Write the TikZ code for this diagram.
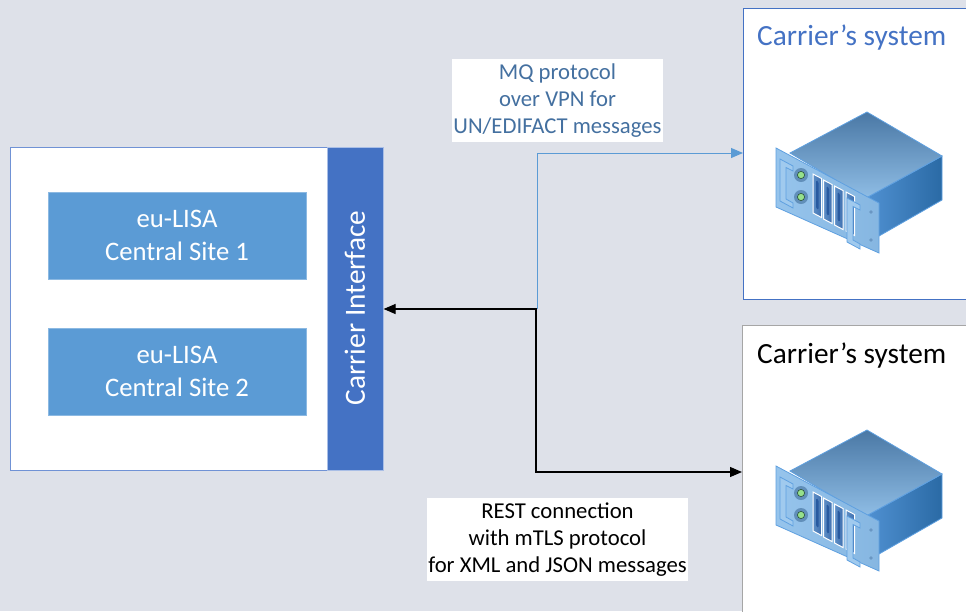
\documentclass[tikz,border=0pt]{standalone}
\usepackage{fontspec}
\setmainfont{Carlito}
\usetikzlibrary{arrows.meta}
\definecolor{bgcol}{RGB}{222,225,233}
\definecolor{lborder}{RGB}{112,146,213}
\definecolor{cifill}{RGB}{68,114,196}
\definecolor{sitefill}{RGB}{91,155,213}
\definecolor{cblue}{RGB}{68,114,196}
\definecolor{cgray}{RGB}{166,166,166}
\definecolor{mqtext}{RGB}{68,112,160}
\definecolor{arrblue}{RGB}{91,155,213}
\definecolor{srvtop}{RGB}{74,120,165}
\definecolor{srvtopl}{RGB}{143,189,229}
\definecolor{srvright}{RGB}{42,106,165}
\definecolor{srvrightl}{RGB}{80,145,210}
\definecolor{srvedge}{RGB}{95,160,224}
\definecolor{plate}{RGB}{150,196,236}
\definecolor{slotdark}{RGB}{40,90,160}
\tikzset{
  sitebox/.style={fill=sitefill, draw=sitefill!70!white, line width=0.6pt, text=white,
    align=center, font=\fontsize{26.7}{33}\selectfont, minimum width=258pt, minimum height=87pt, inner sep=0pt},
  lbl/.style={fill=white, align=center, font=\fontsize{22.7}{27}\selectfont, inner sep=0pt},
  title/.style={anchor=west, font=\fontsize{29.3}{33}\selectfont, inner sep=0pt},
  conn/.style={line width=1.2pt, -{Triangle[length=12pt,width=10pt]}},
  pics/server/.style={code={
    % right face
    \shade[left color=srvrightl, right color=srvright, draw=srvedge, line width=0.8pt]
      (866,-198) -- (942,-156) -- (942,-200) -- (872,-240) -- cycle;
    % top face
    \shade[top color=srvtop, bottom color=srvtopl, draw=srvedge, line width=0.8pt]
      (790,-153) -- (867,-112) -- (942,-156) -- (866,-198) -- cycle;
    % front plate
    \shade[left color=plate, right color=plate!85!srvright, draw=srvedge, line width=0.8pt]
      (776,-148) -- (879,-203) -- (879,-253) -- (776,-207) -- cycle;
    % LEDs
    \foreach \yy in {175,197}{
      \fill[srvtop!70!plate] (801,-\yy) circle (7);
      \filldraw[fill={rgb,255:red,150;green,225;blue,140}, draw={rgb,255:red,40;green,80;blue,60}, line width=0.6pt] (801,-\yy) circle (3.6);
    }
    % slots
    \foreach \xa/\ya in {813/174, 823.5/180, 834.5/186, 846/192}{
      \shade[left color=slotdark!50!plate, right color=slotdark!80!plate, draw=white, line width=1pt]
        (\xa,-\ya) -- ({\xa+8.5},{-\ya-4.5}) -- ({\xa+8.5},{-\ya-43.5}) -- (\xa,{-\ya-39}) -- cycle;
      \fill[slotdark, rounded corners=1.5pt]
        ({\xa+3},{-\ya-6}) -- ({\xa+5.5},{-\ya-7.5}) -- ({\xa+5.5},{-\ya-36}) -- ({\xa+3},{-\ya-34.5}) -- cycle;
    }
    % handles
    \filldraw[fill=plate!90!white, draw=srvedge, line width=0.8pt]
      (780,-159) -- (793,-166) -- (793,-171) -- (786,-167.5) -- (786,-199) -- (793,-203) -- (793,-208) -- (780,-201) -- cycle;
    \filldraw[fill=plate!90!white, draw=srvedge, line width=0.8pt]
      (847,-198) -- (860,-205) -- (860,-210) -- (853,-206.5) -- (853,-240) -- (860,-244) -- (860,-249) -- (847,-242) -- cycle;
    % screws
    \fill[srvedge!70!gray] (871,-212) circle (1.8);
    \fill[srvedge!70!gray] (871,-240) circle (1.8);
  }}
}
\begin{document}
\begin{tikzpicture}[x=1pt,y=1pt]
\useasboundingbox (0,0) rectangle (966,-611);
\fill[bgcol] (0,0) rectangle (966,-611);

% left system
\node[draw=lborder, fill=white, line width=0.8pt, minimum width=317pt, minimum height=323pt, inner sep=0pt, anchor=north west] (lbox) at (10,-147) {};
\node[fill=cifill, draw=lborder!60!white, line width=0.6pt, minimum width=56pt, minimum height=323pt, inner sep=0pt, anchor=north west] (ci) at (327,-147) {};
\node[rotate=90, text=white, font=\fontsize{29.3}{33}\selectfont, inner sep=0pt] (citext) at (355,-308) {Carrier Interface};
\node[sitebox] (site1) at (177,-235.5) {eu-LISA\\Central Site 1};
\node[sitebox] (site2) at (177,-371.5) {eu-LISA\\Central Site 2};

% carrier systems
\node[draw=cblue, fill=white, line width=0.9pt, minimum width=240pt, minimum height=291pt, inner sep=0pt, anchor=north west] (sys1) at (743,-8) {};
\node[draw=cgray, fill=white, line width=0.9pt, minimum width=240pt, minimum height=300pt, inner sep=0pt, anchor=north west] (sys2) at (742,-325) {};
\node[title, text=cblue] (t1) at (757,-38) {Carrier’s system};
\node[title, text=black] (t2) at (757,-356) {Carrier’s system};
\pic (srv1) at (0,0) {server};
\pic (srv2) at (0,-318) {server};

% labels
\node[lbl, text=mqtext, minimum width=211pt, minimum height=83pt] (mq) at (557.5,-100.5) {MQ protocol\\over VPN for\\UN/EDIFACT messages};
\node[lbl, text=black, minimum width=261pt, minimum height=83pt] (rest) at (557.5,-539.5) {REST connection\\with mTLS protocol\\for XML and JSON messages};

% connectors
\coordinate (j) at (537,-309);
\coordinate (jb) at (536,-309);
\coordinate (pmq) at (743,-153);
\coordinate (prest) at (742,-472);
\draw[conn, arrblue, line width=1pt] (j) |- (pmq);
\draw[conn, black] (j) -- (ci.east |- j);
\draw[conn, black] (jb) |- (prest);
\end{tikzpicture}
\end{document}
